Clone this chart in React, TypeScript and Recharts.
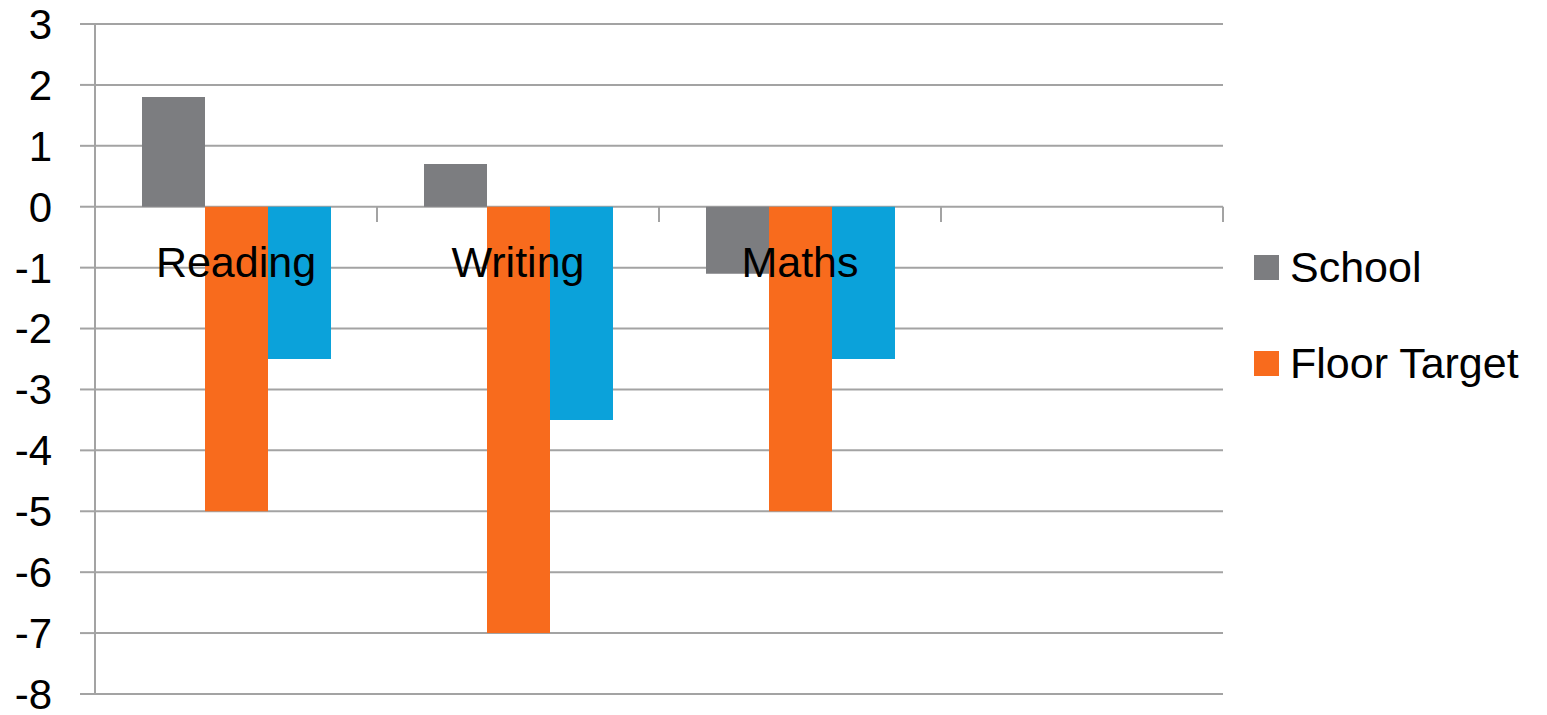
import { BarChart, Bar, XAxis, YAxis, CartesianGrid, Legend, ReferenceDot, ReferenceLine } from 'recharts';

const subjects = ['Reading', 'Writing', 'Maths', ''];
const schoolScores = [1.8, 0.7, -1.1, null];
const floorTargets = [-5, -7, -5, null];
const nationalScores = [-2.5, -3.5, -2.5, null];
const yTicks = [-8, -7, -6, -5, -4, -3, -2, -1, 0, 1, 2, 3];
const categoryEdges = [1, 2, 3, 4];
const legendOrder = ['School', 'Floor Target'];

const GRID = '#a3a3a3';
const FONT = '"Liberation Sans", Arial, sans-serif';

const data = subjects.map((subject, i) => ({
  subject,
  school: schoolScores[i],
  floorTarget: floorTargets[i],
  national: nationalScores[i],
}));

// legend: coloured squares with big labels, stacked in series order
const renderLegend = (props: any) => {
  const items = (props.payload || [])
    .filter((p: any) => p.type !== 'none')
    .sort((a: any, b: any) => legendOrder.indexOf(a.value) - legendOrder.indexOf(b.value));
  return (
    <div>
      {items.map((entry: any) => (
        <div key={entry.value} style={{ display: 'flex', alignItems: 'center', height: 96 }}>
          <span style={{ width: 25, height: 25, background: entry.color, marginRight: 11, display: 'inline-block', flexShrink: 0 }} />
          <span style={{ fontSize: 43, lineHeight: '43px', color: '#000', fontFamily: FONT, whiteSpace: 'nowrap' }}>{entry.value}</span>
        </div>
      ))}
    </div>
  );
};

export default function App() {
  return (
    <div style={{ fontFamily: FONT }}>
      <BarChart
        width={1539}
        height={707}
        data={data}
        margin={{ top: 16, right: 324, bottom: 21, left: 0 }}
        barCategoryGap={47}
        barGap={0}
      >
        <CartesianGrid vertical={false} stroke={GRID} strokeWidth={2} />
        <XAxis dataKey="subject" hide />
        {/* linear axis spanning the four category slots, used for the between-category tick marks */}
        <XAxis xAxisId="edges" dataKey="school" type="number" domain={[0, 4]} allowDataOverflow hide />
        <YAxis
          domain={[-8, 3]}
          ticks={yTicks}
          interval={0}
          width={87}
          tickSize={15}
          tickMargin={28}
          axisLine={{ stroke: GRID, strokeWidth: 2 }}
          tickLine={{ stroke: GRID, strokeWidth: 2 }}
          tick={{ fontSize: 42, fill: '#000', fontFamily: FONT }}
        />
        <Legend
          layout="vertical"
          align="center"
          verticalAlign="middle"
          content={renderLegend}
          wrapperStyle={{ left: 1246, top: 211, width: 295 }}
        />
        <Bar dataKey="school" name="School" fill="#7c7d80" isAnimationActive={false} />
        <Bar dataKey="floorTarget" name="Floor Target" fill="#f86b1d" isAnimationActive={false} />
        <Bar dataKey="national" name="National" fill="#0ba2da" legendType="none" isAnimationActive={false} />
        {categoryEdges.map((edge) => (
          <ReferenceLine
            key={edge}
            xAxisId="edges"
            segment={[{ x: edge, y: 0 }, { x: edge, y: -0.25 }]}
            stroke={GRID}
            strokeWidth={2}
            ifOverflow="visible"
          />
        ))}
        {subjects.filter((s) => s !== '').map((s) => (
          <ReferenceDot
            key={s}
            x={s}
            y={0}
            r={0}
            fill="none"
            stroke="none"
            label={{ value: s, position: 'bottom', offset: 40, fontSize: 43, fill: '#000', fontFamily: FONT }}
          />
        ))}
      </BarChart>
    </div>
  );
}
